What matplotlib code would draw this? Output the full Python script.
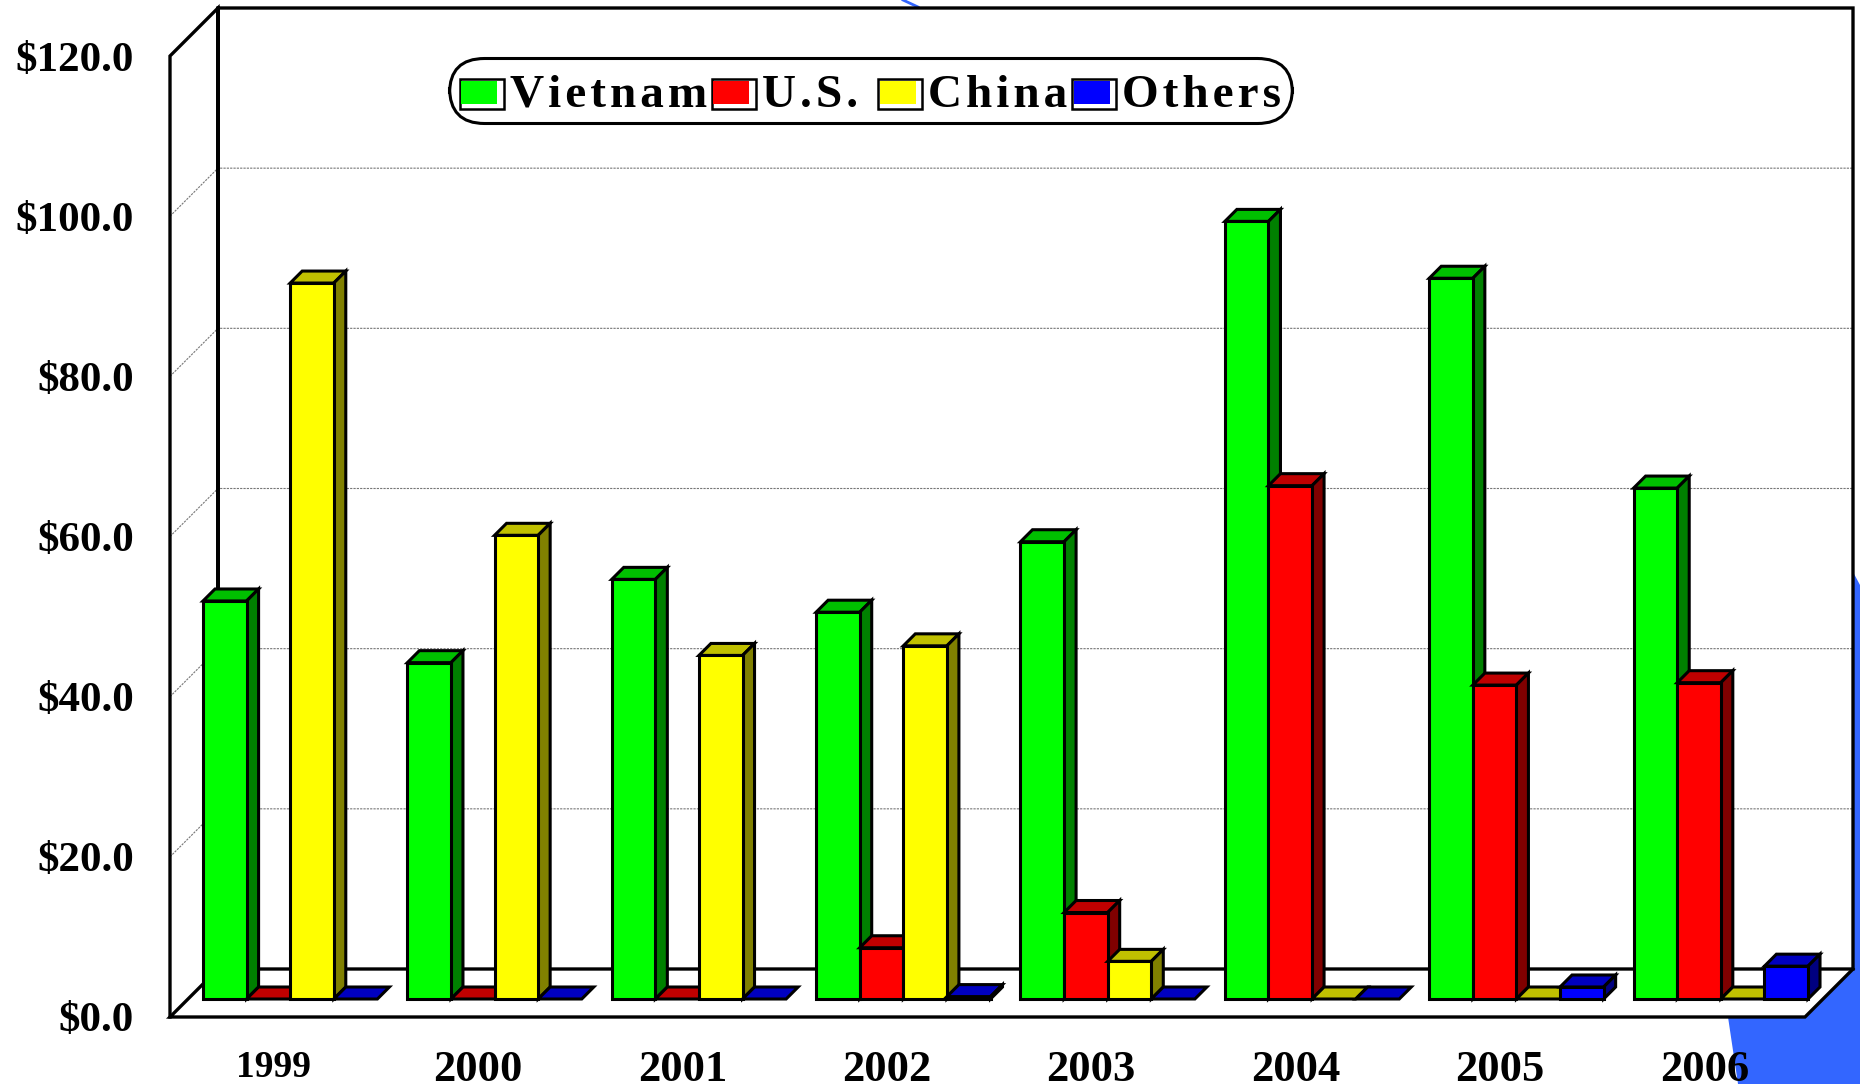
import matplotlib
matplotlib.use("Agg")
import matplotlib.pyplot as plt
from matplotlib.legend_handler import HandlerBase
from matplotlib.patches import Rectangle, Polygon

plt.rcParams['font.family'] = ['Liberation Serif', 'DejaVu Serif']
plt.rcParams['font.weight'] = 'bold'

years = ['1999', '2000', '2001', '2002', '2003', '2004', '2005', '2006']
vietnam = [49.7, 42.0, 52.4, 48.3, 57.1, 97.1, 90.0, 63.8]
us = [0, 0, 0, 6.4, 10.8, 64.1, 39.2, 39.5]
china = [89.4, 57.9, 42.9, 44.1, 4.7, 0, 0, 0]
others = [0, 0, 0, 0.3, 0, 0, 1.5, 4.1]
series_names = ['Vietnam', 'U.S. ', 'China', 'Others']
y_ticks = [0, 20, 40, 60, 80, 100, 120]
y_labels = ['$0.0', '$20.0', '$40.0', '$60.0', '$80.0', '$100.0', '$120.0']

# front, top, side colours
colors = [('#00ff00', '#00c000', '#008000'),
          ('#ff0000', '#c00000', '#800000'),
          ('#ffff00', '#c0c000', '#808000'),
          ('#0000ff', '#0000c0', '#000080')]

W, H = 1860, 1084
LEFT, RIGHT, TOP, BOTTOM = 170, 1805, 56, 1017
fig = plt.figure(figsize=(W / 100, H / 100), dpi=100, facecolor='white')
ax = fig.add_axes([LEFT / W, 1 - BOTTOM / H, (RIGHT - LEFT) / W, (BOTTOM - TOP) / H])
ax.set_xlim(0, len(years))
ax.set_ylim(0, 120)
ax.patch.set_visible(False)
for s in ax.spines.values():
    s.set_visible(False)

# pixels to data units
px = len(years) / (RIGHT - LEFT)
py = 120 / (BOTTOM - TOP)
wall_dx, wall_dy = 48 * px, 48 * py
bar_dx, bar_dy = 12 * px, 12 * py
shift_dx, shift_dy = 18 * px, 18 * py
bar_w = 43.6 * px
n_cat = len(years)

# blue bit of the slide behind the chart
blue = '#3366ff'
bg = fig.add_axes([0, 0, 1, 1], zorder=-1)
bg.set_xlim(0, W)
bg.set_ylim(H, 0)
bg.axis('off')
bg.add_patch(Polygon([(1853, 572), (1860, 585), (1860, 1084), (1738, 1084), (1728, 1017), (1805, 1017), (1853, 968)],
                     closed=True, fc=blue, ec='none'))
bg.plot([903, 918], [0, 7], color=blue, lw=2)

# walls and floor
ax.add_patch(Polygon([(0, 0), (0, 120), (wall_dx, 120 + wall_dy), (n_cat + wall_dx, 120 + wall_dy), (n_cat + wall_dx, wall_dy), (n_cat, 0)],
                     closed=True, fc='white', ec='none', clip_on=False, zorder=1))

for v in y_ticks[1:-1]:
    ax.plot([0, wall_dx, n_cat + wall_dx], [v, v + wall_dy, v + wall_dy], color='#777777', lw=0.8,
            ls=(0, (2, 1)), clip_on=False, zorder=1.5)

ax.plot([0, 0, wall_dx, wall_dx, wall_dx, n_cat + wall_dx, n_cat + wall_dx, wall_dx], [0, 120, 120 + wall_dy, wall_dy, 120 + wall_dy, 120 + wall_dy, wall_dy, wall_dy],
        color='black', lw=2.4, clip_on=False, zorder=2, solid_joinstyle='miter')
ax.plot([wall_dx, 0, n_cat, n_cat + wall_dx], [wall_dy, 0, 0, wall_dy], color='black', lw=2.4,
        clip_on=False, zorder=2, solid_joinstyle='miter')

# bars, left to right so each one hides the side of the one before
group_w = 4 * bar_w
z = 3
for i in range(n_cat):
    x0 = i + (1 - group_w) / 2 + shift_dx
    for k, vals in enumerate([vietnam, us, china, others]):
        x = x0 + k * bar_w
        y0 = shift_dy
        y1 = y0 + vals[i]
        front, top, side = colors[k]
        pieces = [([(x, y1), (x + bar_dx, y1 + bar_dy), (x + bar_w + bar_dx, y1 + bar_dy), (x + bar_w, y1)], top)]
        if vals[i] > 0:
            pieces.append(([(x + bar_w, y0), (x + bar_w + bar_dx, y0 + bar_dy), (x + bar_w + bar_dx, y1 + bar_dy), (x + bar_w, y1)], side))
            pieces.append(([(x, y0), (x, y1), (x + bar_w, y1), (x + bar_w, y0)], front))
        for pts, c in pieces:
            ax.add_patch(Polygon(pts, closed=True, fc=c, ec='black', lw=2.2, joinstyle='miter', clip_on=False, zorder=z))
            z += 0.01

ax.set_yticks(y_ticks, y_labels, fontsize=31, fontweight='bold')
ax.set_xticks([i + 0.5 + 1.5 * px for i in range(n_cat)], years, fontsize=32, fontweight='bold')
ax.tick_params(axis='both', length=0)
ax.tick_params(axis='y', pad=26)
ax.tick_params(axis='x', pad=24)
lab = ax.get_xticklabels()[0]
lab.set_fontsize(27)


class SwatchHandler(HandlerBase):
    # white strip low and right in the swatch, black box round it
    def create_artists(self, legend, orig, xd, yd, width, height, fontsize, trans):
        box = Rectangle((0, -5), 31.7, 21.6, fc='white', ec='black', lw=1.8, transform=trans)
        fill = Rectangle((1, -1.4), 26, 16.5, fc=orig.get_facecolor(), ec='none', transform=trans)
        return [box, fill]


handles = [Rectangle((0, 0), 1, 1, fc=c[0]) for c in colors]
spaced = ['\u200a'.join(n) for n in series_names]
leg = ax.legend(handles, spaced, ncols=4, loc='upper left', bbox_to_anchor=(449 / W, 1 - 58 / H),
                bbox_transform=fig.transFigure, handler_map={Rectangle: SwatchHandler()},
                prop={'size': 34, 'weight': 'bold'}, handlelength=0.93, handleheight=0.7, handletextpad=0.127,
                columnspacing=0.1, borderpad=0.23, borderaxespad=0, labelspacing=0,
                fancybox=True, framealpha=1, edgecolor='black', facecolor='white')
leg.get_frame().set_linewidth(2.2)
leg.get_frame().set_boxstyle('round', pad=0, rounding_size=0.75)
leg.set_zorder(20)
# text sits a bit low in the box
for t in leg.get_texts():
    t.set_y(-5)

fig.savefig('out.png', dpi=100)
